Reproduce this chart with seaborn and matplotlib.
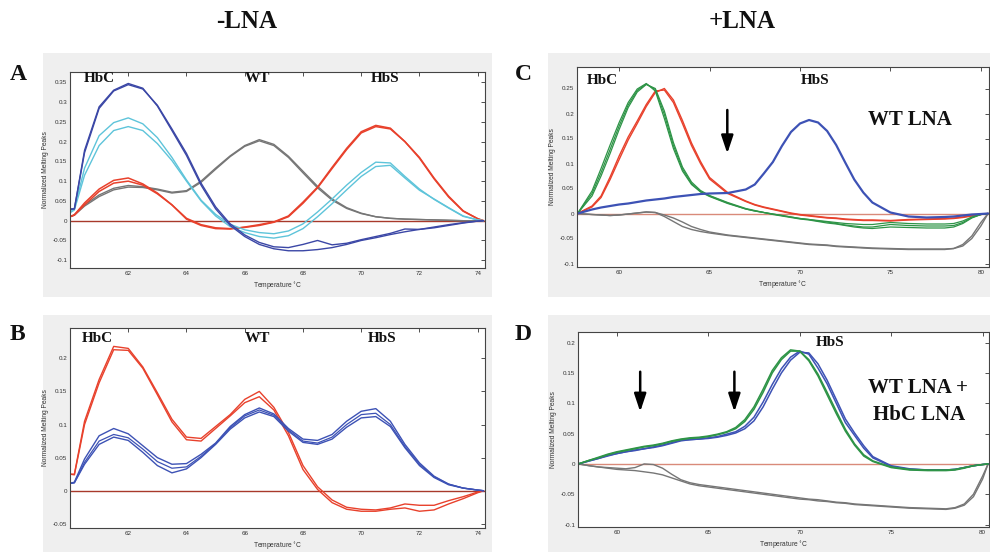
import matplotlib
matplotlib.use("Agg")
import matplotlib.pyplot as plt
import seaborn as sns
from matplotlib.patches import Rectangle
from matplotlib.ticker import FuncFormatter

# ---------------- data ----------------
T_AB = [60.0, 60.15, 60.5, 61.0, 61.5, 62.0, 62.5, 63.0, 63.5, 64.0, 64.5, 65.0, 65.5, 66.0,
        66.5, 67.0, 67.5, 68.0, 68.5, 69.0, 69.5, 70.0, 70.5, 71.0, 71.5, 72.0, 72.5, 73.0,
        73.5, 74.0, 74.2]

A_darkblue_1 = [0.03, 0.03, 0.178, 0.288, 0.33, 0.347, 0.335, 0.29, 0.228, 0.165, 0.09, 0.03,
                -0.012, -0.04, -0.06, -0.071, -0.076, -0.076, -0.073, -0.068, -0.06, -0.05,
                -0.043, -0.035, -0.028, -0.022, -0.018, -0.012, -0.006, -0.001, 0.0]
A_darkblue_2 = [0.028, 0.03, 0.172, 0.284, 0.328, 0.344, 0.333, 0.292, 0.232, 0.17, 0.095, 0.035,
                -0.008, -0.036, -0.055, -0.066, -0.068, -0.06, -0.05, -0.061, -0.057, -0.048,
                -0.04, -0.032, -0.021, -0.022, -0.016, -0.01, -0.005, -0.001, 0.0]
A_cyan_1 = [0.022, 0.03, 0.133, 0.215, 0.248, 0.26, 0.245, 0.21, 0.16, 0.103, 0.052, 0.016,
            -0.009, -0.023, -0.03, -0.033, -0.026, -0.008, 0.022, 0.055, 0.09, 0.122, 0.148,
            0.146, 0.112, 0.08, 0.054, 0.032, 0.011, 0.002, 0.0]
A_cyan_2 = [0.02, 0.027, 0.115, 0.19, 0.228, 0.238, 0.228, 0.195, 0.152, 0.1, 0.05, 0.012,
            -0.015, -0.03, -0.04, -0.044, -0.038, -0.02, 0.01, 0.043, 0.078, 0.112, 0.137,
            0.14, 0.108, 0.077, 0.055, 0.033, 0.012, 0.002, 0.0]
A_red_1 = [0.01, 0.015, 0.045, 0.08, 0.102, 0.108, 0.093, 0.07, 0.04, 0.004, -0.012, -0.02,
           -0.021, -0.016, -0.01, -0.003, 0.012, 0.047, 0.085, 0.135, 0.183, 0.225, 0.241,
           0.234, 0.2, 0.16, 0.108, 0.062, 0.025, 0.005, 0.0]
A_red_2 = [0.01, 0.014, 0.04, 0.074, 0.095, 0.1, 0.09, 0.068, 0.04, 0.006, -0.01, -0.018,
           -0.02, -0.017, -0.012, -0.004, 0.01, 0.044, 0.083, 0.132, 0.18, 0.222, 0.238,
           0.232, 0.2, 0.158, 0.106, 0.06, 0.024, 0.005, 0.0]
A_gray_1 = [0.01, 0.015, 0.04, 0.065, 0.082, 0.089, 0.086, 0.08, 0.072, 0.076, 0.1, 0.133,
            0.164, 0.19, 0.205, 0.193, 0.163, 0.125, 0.087, 0.055, 0.033, 0.019, 0.01, 0.006,
            0.004, 0.003, 0.002, 0.001, 0.0, 0.0, 0.0]
A_gray_2 = [0.01, 0.014, 0.037, 0.061, 0.078, 0.085, 0.084, 0.078, 0.07, 0.074, 0.097, 0.13,
            0.162, 0.188, 0.202, 0.19, 0.16, 0.121, 0.083, 0.052, 0.031, 0.018, 0.01, 0.006,
            0.004, 0.003, 0.002, 0.001, 0.0, 0.0, 0.0]

B_red_1 = [0.025, 0.025, 0.105, 0.168, 0.218, 0.215, 0.187, 0.148, 0.108, 0.081, 0.079, 0.097,
           0.115, 0.138, 0.15, 0.126, 0.088, 0.038, 0.006, -0.014, -0.025, -0.028, -0.029,
           -0.026, -0.02, -0.022, -0.022, -0.015, -0.009, -0.002, 0.0]
B_red_2 = [0.025, 0.024, 0.1, 0.163, 0.213, 0.212, 0.185, 0.145, 0.104, 0.077, 0.075, 0.094,
           0.113, 0.133, 0.142, 0.122, 0.083, 0.032, 0.002, -0.018, -0.028, -0.031, -0.031,
           -0.028, -0.026, -0.031, -0.029, -0.02, -0.012, -0.003, 0.0]
B_blue_1 = [0.011, 0.013, 0.048, 0.083, 0.094, 0.086, 0.068, 0.05, 0.04, 0.041, 0.055, 0.072,
            0.097, 0.115, 0.125, 0.116, 0.094, 0.078, 0.076, 0.085, 0.105, 0.12, 0.124, 0.105,
            0.07, 0.042, 0.022, 0.01, 0.004, 0.001, 0.0]
B_blue_2 = [0.011, 0.012, 0.04, 0.07, 0.081, 0.076, 0.058, 0.038, 0.027, 0.033, 0.05, 0.07,
            0.093, 0.11, 0.119, 0.112, 0.09, 0.073, 0.07, 0.078, 0.096, 0.11, 0.112, 0.097,
            0.065, 0.038, 0.02, 0.009, 0.004, 0.001, 0.0]
B_blue_3 = [0.011, 0.012, 0.043, 0.075, 0.085, 0.08, 0.063, 0.044, 0.034, 0.036, 0.052, 0.071,
            0.095, 0.113, 0.122, 0.114, 0.092, 0.075, 0.072, 0.081, 0.1, 0.115, 0.117, 0.1,
            0.067, 0.04, 0.021, 0.01, 0.004, 0.001, 0.0]

T_C = [57.7, 58.5, 59.0, 59.5, 60.0, 60.5, 61.0, 61.5, 62.0, 62.5, 63.0, 63.5, 64.0, 64.5,
       65.0, 66.0, 67.0, 67.5, 68.0, 68.5, 69.0, 69.5, 70.0, 70.5, 71.0, 71.5, 72.0, 72.5,
       73.0, 73.5, 74.0, 75.0, 76.0, 77.0, 78.0, 78.5, 79.0, 79.5, 80.0, 80.4]
C_green_1 = [0.0, 0.045, 0.09, 0.137, 0.182, 0.222, 0.249, 0.26, 0.245, 0.19, 0.13, 0.085,
             0.058, 0.043, 0.034, 0.02, 0.009, 0.005, 0.002, -0.001, -0.004, -0.007, -0.01,
             -0.012, -0.015, -0.017, -0.02, -0.023, -0.025, -0.027, -0.027, -0.022, -0.024,
             -0.025, -0.025, -0.024, -0.018, -0.008, -0.002, 0.0]
C_green_2 = [0.0, 0.035, 0.075, 0.12, 0.168, 0.212, 0.243, 0.258, 0.25, 0.205, 0.142, 0.093,
             0.063, 0.046, 0.036, 0.022, 0.01, 0.006, 0.002, -0.002, -0.005, -0.008, -0.011,
             -0.013, -0.016, -0.019, -0.021, -0.024, -0.027, -0.029, -0.03, -0.027, -0.028,
             -0.029, -0.029, -0.027, -0.02, -0.009, -0.002, 0.0]
C_green_3 = [0.0, 0.04, 0.082, 0.128, 0.175, 0.217, 0.246, 0.259, 0.248, 0.198, 0.136, 0.089,
             0.06, 0.044, 0.035, 0.021, 0.009, 0.005, 0.002, -0.001, -0.004, -0.007, -0.01,
             -0.012, -0.014, -0.016, -0.018, -0.02, -0.021, -0.022, -0.022, -0.018, -0.02,
             -0.021, -0.021, -0.02, -0.015, -0.007, -0.002, 0.0]
C_red_1 = [0.0, 0.015, 0.035, 0.073, 0.115, 0.153, 0.185, 0.218, 0.245, 0.247, 0.222, 0.18,
           0.136, 0.1, 0.069, 0.04, 0.024, 0.017, 0.012, 0.008, 0.004, 0.0, -0.003, -0.005,
           -0.007, -0.009, -0.01, -0.012, -0.013, -0.014, -0.014, -0.015, -0.013, -0.012,
           -0.011, -0.01, -0.008, -0.005, -0.002, 0.0]
C_red_2 = [0.0, 0.013, 0.032, 0.068, 0.108, 0.147, 0.18, 0.214, 0.242, 0.25, 0.227, 0.186,
           0.141, 0.104, 0.072, 0.042, 0.025, 0.018, 0.013, 0.009, 0.005, 0.001, -0.002, -0.004,
           -0.006, -0.008, -0.009, -0.011, -0.012, -0.013, -0.013, -0.014, -0.012, -0.011,
           -0.01, -0.009, -0.007, -0.004, -0.001, 0.0]
C_blue_1 = [0.0, 0.008, 0.012, 0.015, 0.018, 0.02, 0.023, 0.026, 0.028, 0.03, 0.033, 0.035,
            0.037, 0.039, 0.04, 0.041, 0.048, 0.058, 0.08, 0.103, 0.135, 0.163, 0.18, 0.187,
            0.182, 0.165, 0.137, 0.102, 0.068, 0.042, 0.022, 0.002, -0.006, -0.008, -0.007,
            -0.006, -0.004, -0.002, -0.001, 0.0]
C_gray_1 = [0.0, -0.002, -0.003, -0.004, -0.003, -0.001, 0.001, 0.003, 0.002, -0.006, -0.016,
            -0.026, -0.032, -0.036, -0.039, -0.044, -0.048, -0.05, -0.052, -0.054, -0.056,
            -0.058, -0.06, -0.062, -0.063, -0.064, -0.066, -0.067, -0.068, -0.069, -0.07,
            -0.071, -0.072, -0.072, -0.072, -0.07, -0.062, -0.045, -0.018, 0.0]
C_gray_2 = [0.0, -0.002, -0.003, -0.004, -0.003, -0.001, 0.001, 0.003, 0.002, -0.003, -0.009,
            -0.017, -0.026, -0.032, -0.037, -0.043, -0.047, -0.049, -0.051, -0.053, -0.055,
            -0.057, -0.059, -0.061, -0.062, -0.063, -0.065, -0.066, -0.067, -0.068, -0.069,
            -0.07, -0.071, -0.071, -0.071, -0.07, -0.065, -0.05, -0.025, 0.0]

T_D = [57.9, 58.5, 59.0, 59.5, 60.0, 60.5, 61.0, 61.5, 62.0, 62.5, 63.0, 63.5, 64.0, 64.5,
       65.0, 65.5, 66.0, 66.5, 67.0, 67.5, 68.0, 68.5, 69.0, 69.5, 70.0, 70.5, 71.0, 71.5,
       72.0, 72.5, 73.0, 73.5, 74.0, 75.0, 76.0, 77.0, 78.0, 78.5, 79.0, 79.5, 80.0, 80.3]
D_green_1 = [0.0, 0.006, 0.01, 0.015, 0.019, 0.022, 0.025, 0.028, 0.03, 0.033, 0.037, 0.04,
             0.042, 0.043, 0.045, 0.048, 0.052, 0.058, 0.07, 0.09, 0.118, 0.15, 0.172, 0.186,
             0.186, 0.172, 0.148, 0.118, 0.087, 0.057, 0.033, 0.015, 0.005, -0.005, -0.009,
             -0.01, -0.01, -0.009, -0.006, -0.003, -0.001, 0.0]
D_green_2 = [0.0, 0.006, 0.011, 0.016, 0.02, 0.023, 0.026, 0.029, 0.031, 0.034, 0.038, 0.041,
             0.043, 0.044, 0.046, 0.049, 0.053, 0.06, 0.073, 0.094, 0.123, 0.154, 0.175, 0.188,
             0.186, 0.17, 0.145, 0.114, 0.083, 0.054, 0.031, 0.013, 0.004, -0.006, -0.01,
             -0.011, -0.011, -0.01, -0.007, -0.003, -0.001, 0.0]
D_blue_1 = [0.0, 0.005, 0.009, 0.014, 0.017, 0.02, 0.023, 0.025, 0.028, 0.031, 0.035, 0.039,
            0.04, 0.041, 0.043, 0.045, 0.049, 0.053, 0.062, 0.077, 0.102, 0.131, 0.157, 0.176,
            0.186, 0.181, 0.158, 0.132, 0.1, 0.068, 0.047, 0.026, 0.01, -0.004, -0.009, -0.01,
            -0.01, -0.009, -0.006, -0.003, -0.001, 0.0]
D_blue_2 = [0.0, 0.005, 0.009, 0.013, 0.017, 0.02, 0.022, 0.025, 0.027, 0.03, 0.034, 0.038,
            0.04, 0.041, 0.042, 0.044, 0.047, 0.051, 0.058, 0.071, 0.094, 0.123, 0.15, 0.171,
            0.184, 0.183, 0.165, 0.138, 0.106, 0.074, 0.051, 0.03, 0.012, -0.003, -0.008, -0.01,
            -0.01, -0.009, -0.006, -0.003, -0.001, 0.0]
D_gray_1 = [0.0, -0.003, -0.005, -0.006, -0.007, -0.008, -0.006, 0.0, -0.001, -0.007, -0.017,
            -0.026, -0.031, -0.034, -0.036, -0.038, -0.04, -0.042, -0.044, -0.046, -0.048,
            -0.05, -0.052, -0.054, -0.056, -0.058, -0.059, -0.061, -0.063, -0.064, -0.066,
            -0.067, -0.068, -0.07, -0.072, -0.073, -0.074, -0.072, -0.066, -0.05, -0.02, 0.0]
D_gray_2 = [0.0, -0.003, -0.005, -0.007, -0.009, -0.01, -0.011, -0.013, -0.015, -0.018, -0.023,
            -0.028, -0.033, -0.036, -0.038, -0.04, -0.042, -0.044, -0.046, -0.048, -0.05,
            -0.052, -0.054, -0.056, -0.058, -0.059, -0.061, -0.062, -0.064, -0.065, -0.067,
            -0.068, -0.069, -0.071, -0.073, -0.074, -0.075, -0.073, -0.068, -0.054, -0.025, 0.0]

xticks_AB = [62, 64, 66, 68, 70, 72, 74]
xticks_CD = [60, 65, 70, 75, 80]
yticks_A = [-0.1, -0.05, 0, 0.05, 0.1, 0.15, 0.2, 0.25, 0.3, 0.35]
yticks_B = [-0.05, 0, 0.05, 0.1, 0.15, 0.2]
yticks_C = [-0.1, -0.05, 0, 0.05, 0.1, 0.15, 0.2, 0.25]
yticks_D = [-0.1, -0.05, 0, 0.05, 0.1, 0.15, 0.2]

# ---------------- styling ----------------
sns.set_style("white")
plt.rcParams["font.family"] = ["Liberation Sans", "DejaVu Sans"]

W, H = 990, 552
fig = plt.figure(figsize=(W / 100, H / 100), dpi=100)
fig.patch.set_facecolor("white")


def fx(px):
    return px / W


def fy(py):
    return 1 - py / H


def rect_px(x0, y0, x1, y1):
    return [fx(x0), fy(y1), (x1 - x0) / W, (y1 - y0) / H]


# gray panel backgrounds (drawn beneath the axes)
for (x0, y0, x1, y1) in [(43, 53, 492, 297), (43, 315, 492, 552),
                         (548, 53, 990, 297), (548, 315, 990, 552)]:
    fig.patches.append(Rectangle((fx(x0), fy(y1)), (x1 - x0) / W, (y1 - y0) / H,
                                 transform=fig.transFigure, facecolor="#efefef",
                                 edgecolor="none", zorder=-5))

DBLUE = "#3b47a6"
CYAN = "#5ec4da"
RED = "#e8412c"
GRAY = "#767676"
BLUE = "#3d52b5"
GREEN = "#2e9447"
ZERO_AB = "#a8392b"
ZERO_CD = "#d98a7a"

fmt = FuncFormatter(lambda v, p: "%g" % round(v, 3))


def setup(ax, xlim, ylim, xticks, yticks, zcolor):
    ax.set_zorder(2)
    ax.set_facecolor("white")
    ax.axhline(0, color=zcolor, lw=1.0, zorder=1)
    ax.set_xlim(*xlim)
    ax.set_ylim(*ylim)
    ax.set_xticks(xticks)
    ax.set_yticks(yticks)
    ax.yaxis.set_major_formatter(fmt)
    ax.tick_params(direction="in", top=True, right=True, length=3, width=0.6,
                   labelsize=4.5, pad=2, colors="#333333")
    for s in ax.spines.values():
        s.set_linewidth(0.8)
        s.set_color("#444444")
        s.set_visible(True)
    ax.set_xlabel("Temperature $^{\\circ}$C", fontsize=4.8, labelpad=3, color="#333333")
    ax.set_ylabel("Normalized Melting Peaks", fontsize=4.8, labelpad=3, color="#333333")


def draw(ax, T, curves):
    for y, c, lw in curves:
        sns.lineplot(x=T, y=y, ax=ax, color=c, lw=lw, estimator=None, sort=False,
                     zorder=2)


axA = fig.add_axes(rect_px(70, 72, 485, 268))
setup(axA, (60.0, 74.25), (-0.1196, 0.376), xticks_AB, yticks_A, ZERO_AB)
draw(axA, T_AB, [(A_gray_1, GRAY, 1.0), (A_gray_2, GRAY, 1.0),
                 (A_red_1, RED, 1.1), (A_red_2, RED, 1.1),
                 (A_cyan_1, CYAN, 1.0), (A_cyan_2, CYAN, 1.0),
                 (A_darkblue_1, DBLUE, 1.0), (A_darkblue_2, DBLUE, 1.0)])

axB = fig.add_axes(rect_px(70, 328, 485, 528))
setup(axB, (60.0, 74.25), (-0.0563, 0.2458), xticks_AB, yticks_B, ZERO_AB)
draw(axB, T_AB, [(B_red_1, RED, 1.0), (B_red_2, RED, 1.0),
                 (B_blue_1, BLUE, 1.0), (B_blue_2, BLUE, 1.0), (B_blue_3, BLUE, 0.9)])

axC = fig.add_axes(rect_px(577, 67, 989, 267))
setup(axC, (57.67, 80.45), (-0.107, 0.293), xticks_CD, yticks_C, ZERO_CD)
draw(axC, T_C, [(C_gray_1, GRAY, 1.0), (C_gray_2, GRAY, 1.0),
                (C_red_1, RED, 1.0), (C_red_2, RED, 1.0),
                (C_green_1, GREEN, 0.9), (C_green_2, GREEN, 0.9), (C_green_3, GREEN, 0.9),
                (C_blue_1, BLUE, 1.6)])

axD = fig.add_axes(rect_px(578, 332, 989, 527))
setup(axD, (57.88, 80.35), (-0.104, 0.2175), xticks_CD, yticks_D, ZERO_CD)
draw(axD, T_D, [(D_gray_1, GRAY, 1.0), (D_gray_2, GRAY, 1.0),
                (D_blue_1, BLUE, 1.1), (D_blue_2, BLUE, 1.1),
                (D_green_1, GREEN, 1.1), (D_green_2, GREEN, 1.1)])

# ---------------- text ----------------
serif = dict(family=["Liberation Serif", "DejaVu Serif"], weight="bold", color="#111111")

fig.text(fx(247), fy(22), "-LNA", ha="center", va="center", fontsize=18, **serif)
fig.text(fx(742), fy(22), "+LNA", ha="center", va="center", fontsize=18, **serif)

for lab, x, y in [("A", 18, 74), ("B", 17, 335), ("C", 523, 75), ("D", 523, 334)]:
    fig.text(fx(x), fy(y), lab, ha="center", va="center", fontsize=17, **serif)

for s, x, y in [("HbC", 99, 79), ("WT", 257, 79), ("HbS", 385, 79),
                ("HbC", 97, 339), ("WT", 257, 339), ("HbS", 382, 339),
                ("HbC", 602, 80), ("HbS", 815, 80), ("HbS", 830, 343)]:
    fig.text(fx(x), fy(y), s, ha="center", va="center", fontsize=11, zorder=5, **serif)

fig.text(fx(910), fy(120), "WT LNA", ha="center", va="center", fontsize=15, zorder=5, **serif)
fig.text(fx(918), fy(388), "WT LNA +", ha="center", va="center", fontsize=15, zorder=5, **serif)
fig.text(fx(919), fy(415), "HbC LNA", ha="center", va="center", fontsize=15, zorder=5, **serif)

# arrows
arrow = dict(arrowstyle="-|>,head_length=0.9,head_width=0.3", color="black", lw=1.8,
             mutation_scale=12, shrinkA=0, shrinkB=0)
axC.annotate("", xy=(65.98, 0.12), xytext=(65.98, 0.207), arrowprops=arrow)
axD.annotate("", xy=(61.28, 0.086), xytext=(61.28, 0.152), arrowprops=arrow)
axD.annotate("", xy=(66.43, 0.086), xytext=(66.43, 0.152), arrowprops=arrow)

fig.savefig("out.png", dpi=100)
